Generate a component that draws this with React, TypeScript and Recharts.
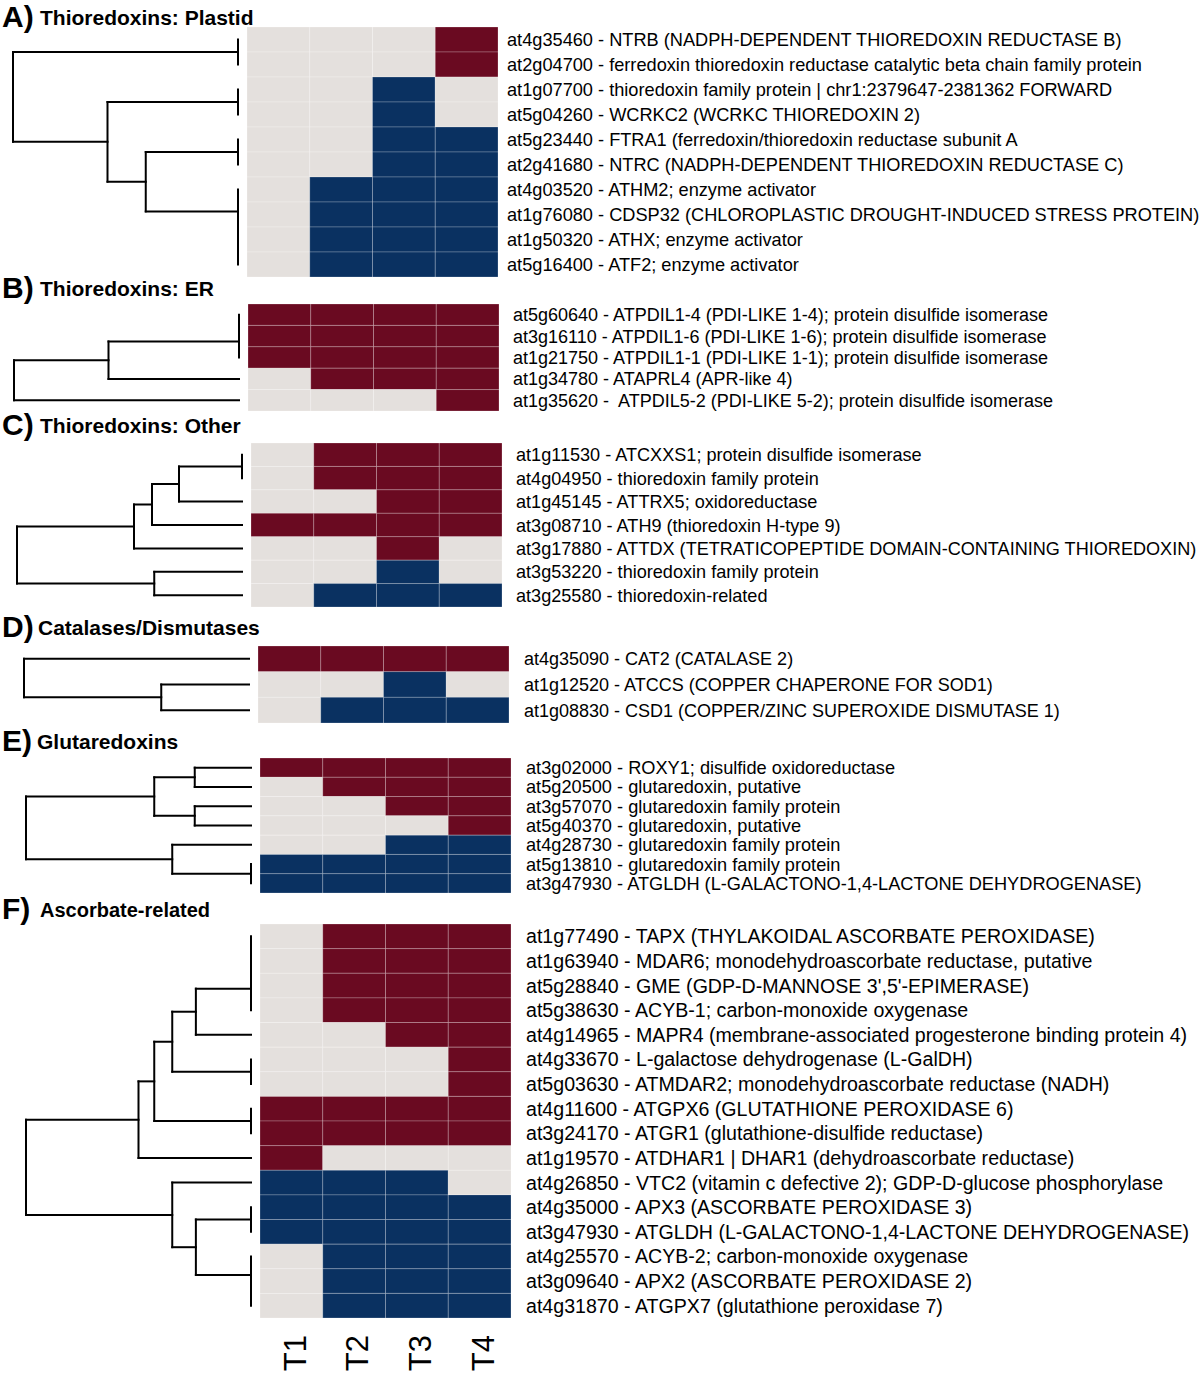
import React from 'react'
import { ComposedChart, XAxis, YAxis, ReferenceArea, ReferenceLine } from 'recharts'

// expression calls per time point: 1 = up (red), -1 = down (blue), 0 = unchanged (grey)
const timePoints = ['T1', 'T2', 'T3', 'T4']

// dendrograms: a leaf is a row index, a node is [height, left, right] (root height = 1)
type Tree = number | [number, Tree, Tree]

const plastidGenes = [
  'at4g35460 - NTRB (NADPH-DEPENDENT THIOREDOXIN REDUCTASE B)',
  'at2g04700 - ferredoxin thioredoxin reductase catalytic beta chain family protein',
  'at1g07700 - thioredoxin family protein | chr1:2379647-2381362 FORWARD',
  'at5g04260 - WCRKC2 (WCRKC THIOREDOXIN 2)',
  'at5g23440 - FTRA1 (ferredoxin/thioredoxin reductase subunit A',
  'at2g41680 - NTRC (NADPH-DEPENDENT THIOREDOXIN REDUCTASE C)',
  'at4g03520 - ATHM2; enzyme activator',
  'at1g76080 - CDSP32 (CHLOROPLASTIC DROUGHT-INDUCED STRESS PROTEIN)',
  'at1g50320 - ATHX; enzyme activator',
  'at5g16400 - ATF2; enzyme activator',
]
const plastidCalls = [
  [0, 0, 0, 1], [0, 0, 0, 1], [0, 0, -1, 0], [0, 0, -1, 0], [0, 0, -1, -1],
  [0, 0, -1, -1], [0, -1, -1, -1], [0, -1, -1, -1], [0, -1, -1, -1], [0, -1, -1, -1],
]
const plastidTree: Tree = [1, [0, 0, 1], [0.58, [0, 2, 3], [0.41, [0, 4, 5], [0, 6, [0, 7, [0, 8, 9]]]]]]

const erGenes = [
  'at5g60640 - ATPDIL1-4 (PDI-LIKE 1-4); protein disulfide isomerase',
  'at3g16110 - ATPDIL1-6 (PDI-LIKE 1-6); protein disulfide isomerase',
  'at1g21750 - ATPDIL1-1 (PDI-LIKE 1-1); protein disulfide isomerase',
  'at1g34780 - ATAPRL4 (APR-like 4)',
  'at1g35620 -  ATPDIL5-2 (PDI-LIKE 5-2); protein disulfide isomerase',
]
const erCalls = [[1, 1, 1, 1], [1, 1, 1, 1], [1, 1, 1, 1], [0, 1, 1, 1], [0, 0, 0, 1]]
const erTree: Tree = [1, [0.58, [0, [0, 0, 1], 2], 3], 4]

const otherGenes = [
  'at1g11530 - ATCXXS1; protein disulfide isomerase',
  'at4g04950 - thioredoxin family protein',
  'at1g45145 - ATTRX5; oxidoreductase',
  'at3g08710 - ATH9 (thioredoxin H-type 9)',
  'at3g17880 - ATTDX (TETRATICOPEPTIDE DOMAIN-CONTAINING THIOREDOXIN)',
  'at3g53220 - thioredoxin family protein',
  'at3g25580 - thioredoxin-related',
]
const otherCalls = [
  [0, 1, 1, 1], [0, 1, 1, 1], [0, 0, 1, 1], [1, 1, 1, 1], [0, 0, 1, 0], [0, 0, -1, 0], [0, -1, -1, -1],
]
const otherTree: Tree = [1, [0.48, [0.4, [0.28, [0, 0, 1], 2], 3], 4], [0.39, 5, 6]]

const catalaseGenes = [
  'at4g35090 - CAT2 (CATALASE 2)',
  'at1g12520 - ATCCS (COPPER CHAPERONE FOR SOD1)',
  'at1g08830 - CSD1 (COPPER/ZINC SUPEROXIDE DISMUTASE 1)',
]
const catalaseCalls = [[1, 1, 1, 1], [0, 0, -1, 0], [0, -1, -1, -1]]
const catalaseTree: Tree = [1, 0, [0.39, 1, 2]]

const glutaGenes = [
  'at3g02000 - ROXY1; disulfide oxidoreductase',
  'at5g20500 - glutaredoxin, putative',
  'at3g57070 - glutaredoxin family protein',
  'at5g40370 - glutaredoxin, putative',
  'at4g28730 - glutaredoxin family protein',
  'at5g13810 - glutaredoxin family protein',
  'at3g47930 - ATGLDH (L-GALACTONO-1,4-LACTONE DEHYDROGENASE)',
]
const glutaCalls = [
  [1, 1, 1, 1], [0, 1, 1, 1], [0, 0, 1, 1], [0, 0, 0, 1], [0, 0, -1, -1], [-1, -1, -1, -1], [-1, -1, -1, -1],
]
const glutaTree: Tree = [1, [0.43, [0.25, 0, 1], [0.25, 2, 3]], [0.35, 4, [0, 5, 6]]]

const ascorbateGenes = [
  'at1g77490 - TAPX (THYLAKOIDAL ASCORBATE PEROXIDASE)',
  'at1g63940 - MDAR6; monodehydroascorbate reductase, putative',
  "at5g28840 - GME (GDP-D-MANNOSE 3',5'-EPIMERASE)",
  'at5g38630 - ACYB-1; carbon-monoxide oxygenase',
  'at4g14965 - MAPR4 (membrane-associated progesterone binding protein 4)',
  'at4g33670 - L-galactose dehydrogenase (L-GalDH)',
  'at5g03630 - ATMDAR2; monodehydroascorbate reductase (NADH)',
  'at4g11600 - ATGPX6 (GLUTATHIONE PEROXIDASE 6)',
  'at3g24170 - ATGR1 (glutathione-disulfide reductase)',
  'at1g19570 - ATDHAR1 | DHAR1 (dehydroascorbate reductase)',
  'at4g26850 - VTC2 (vitamin c defective 2); GDP-D-glucose phosphorylase',
  'at4g35000 - APX3 (ASCORBATE PEROXIDASE 3)',
  'at3g47930 - ATGLDH (L-GALACTONO-1,4-LACTONE DEHYDROGENASE)',
  'at4g25570 - ACYB-2; carbon-monoxide oxygenase',
  'at3g09640 - APX2 (ASCORBATE PEROXIDASE 2)',
  'at4g31870 - ATGPX7 (glutathione peroxidase 7)',
]
const ascorbateCalls = [
  [0, 1, 1, 1], [0, 1, 1, 1], [0, 1, 1, 1], [0, 1, 1, 1], [0, 0, 1, 1], [0, 0, 0, 1], [0, 0, 0, 1],
  [1, 1, 1, 1], [1, 1, 1, 1], [1, 0, 0, 0], [-1, -1, -1, 0], [-1, -1, -1, -1], [-1, -1, -1, -1],
  [0, -1, -1, -1], [0, -1, -1, -1], [0, -1, -1, -1],
]
const ascorbateTree: Tree = [
  1,
  [0.5, [0.43, [0.35, [0.245, [0, [0, [0, 0, 1], 2], 3], 4], [0, 5, 6]], [0, 7, 8]], 9],
  [0.35, 10, [0.245, [0, 11, 12], [0, 13, [0, 14, 15]]]],
]

const COLORS: Record<number, string> = { 1: '#6a0a21', [-1]: '#0a3161', 0: '#e4e0dd' }
const FONT = '"Liberation Sans", Arial, Helvetica, sans-serif'

// px layout
const COL_PX = 62.75
const LEFT_PX = 240
const LEAF_GAP = 9 / COL_PX
const TREE_SPAN = 225 / COL_PX

const panels = [
  { letter: 'A)', title: 'Thioredoxins: Plastid', titleX: 40, baseline: 25, genes: plastidGenes, calls: plastidCalls, tree: plastidTree, left: 247, top: 27, bottom: 277, gap: 9, font: 18.2 },
  { letter: 'B)', title: 'Thioredoxins: ER', titleX: 40, baseline: 296, genes: erGenes, calls: erCalls, tree: erTree, left: 248, top: 304, bottom: 411, gap: 14, font: 18 },
  { letter: 'C)', title: 'Thioredoxins: Other', titleX: 40, baseline: 433, genes: otherGenes, calls: otherCalls, tree: otherTree, left: 251, top: 443, bottom: 607, gap: 14, font: 18.1 },
  { letter: 'D)', title: 'Catalases/Dismutases', titleX: 38, baseline: 635, genes: catalaseGenes, calls: catalaseCalls, tree: catalaseTree, left: 258, top: 646, bottom: 723, gap: 15, font: 18 },
  { letter: 'E)', title: 'Glutaredoxins', titleX: 37, baseline: 749, genes: glutaGenes, calls: glutaCalls, tree: glutaTree, left: 260, top: 758, bottom: 893, gap: 15, font: 18.2 },
  { letter: 'F)', title: 'Ascorbate-related', titleX: 40, baseline: 917, genes: ascorbateGenes, calls: ascorbateCalls, tree: ascorbateTree, left: 260, top: 924, bottom: 1318, gap: 15, font: 19.6, axis: true },
]

type Seg = { x1: number; y1: number; x2: number; y2: number }

const treeX = (h: number) => -(LEAF_GAP + h * TREE_SPAN)

function layoutTree(t: Tree, segs: Seg[]): { y: number; h: number } {
  if (typeof t === 'number') return { y: t + 0.5, h: 0 }
  const [h, l, r] = t
  const a = layoutTree(l, segs)
  const b = layoutTree(r, segs)
  segs.push({ x1: treeX(h), y1: a.y, x2: treeX(h), y2: b.y })
  if (a.h !== h) segs.push({ x1: treeX(h), y1: a.y, x2: treeX(a.h), y2: a.y })
  if (b.h !== h) segs.push({ x1: treeX(h), y1: b.y, x2: treeX(b.h), y2: b.y })
  return { y: (a.y + b.y) / 2, h }
}

function Panel({ p }: { p: (typeof panels)[number] }) {
  const n = p.genes.length
  const chartLeft = p.left - LEFT_PX
  const width = 1200 - chartLeft
  const plotW = LEFT_PX + 4 * COL_PX
  const axisH = p.axis ? 56 : 0
  const height = p.bottom - p.top + 8 + axisH
  const segs: Seg[] = []
  layoutTree(p.tree, segs)

  const GeneTick = (props: any) => {
    const i = Math.round(props.payload.value - 0.5)
    return (
      <text x={props.x + p.gap} y={props.y} dy="0.36em" fontSize={p.font} fontFamily={FONT} fill="#000" style={{ whiteSpace: 'pre' }}>
        {p.genes[i]}
      </text>
    )
  }
  const TimeTick = (props: any) => {
    const i = Math.round(props.payload.value - 0.5)
    return (
      <text transform={`translate(${props.x + 3},${props.y + 17}) rotate(-90)`} textAnchor="end" dy="0.36em" fontSize={31} fontFamily={FONT} fill="#000">
        {timePoints[i]}
      </text>
    )
  }

  return (
    <div style={{ position: 'absolute', left: chartLeft, top: p.top - 4 }}>
      <ComposedChart width={width} height={height} margin={{ top: 4, right: 0, bottom: 4, left: 0 }}>
        <XAxis
          type="number"
          dataKey="x"
          scale="linear"
          domain={[-LEFT_PX / COL_PX, 4]}
          allowDataOverflow
          ticks={[0.5, 1.5, 2.5, 3.5]}
          interval={0}
          hide={!p.axis}
          height={axisH}
          axisLine={false}
          tickLine={false}
          tickSize={0}
          tickMargin={0}
          tick={<TimeTick />}
        />
        <YAxis
          type="number"
          dataKey="y"
          orientation="right"
          scale="linear"
          domain={[0, n]}
          reversed
          allowDataOverflow
          width={width - plotW}
          ticks={p.genes.map((_, i) => i + 0.5)}
          interval={0}
          axisLine={false}
          tickLine={false}
          tickSize={0}
          tickMargin={0}
          tick={<GeneTick />}
        />
        {p.calls.map((row, r) =>
          row.map((v, c) => (
            <ReferenceArea
              key={`c${r}-${c}`}
              x1={c}
              x2={c + 1}
              y1={r}
              y2={r + 1}
              fill={COLORS[v]}
              fillOpacity={1}
              stroke="rgba(255,255,255,0.22)"
              strokeWidth={1}
              ifOverflow="visible"
            />
          ))
        )}
        {segs.map((s, k) => (
          <ReferenceLine
            key={`s${k}`}
            segment={[{ x: s.x1, y: s.y1 }, { x: s.x2, y: s.y2 }]}
            stroke="#000"
            strokeWidth={2}
            strokeLinecap="square"
            ifOverflow="visible"
          />
        ))}
      </ComposedChart>
    </div>
  )
}

export default function App() {
  return (
    <div style={{ position: 'absolute', left: 0, top: 0, width: 1200, height: 1374, background: '#fff', overflow: 'hidden' }}>
      {panels.map((p) => (
        <Panel key={p.letter} p={p} />
      ))}
      <svg width={1200} height={1374} style={{ position: 'absolute', left: 0, top: 0, pointerEvents: 'none' }}>
        {panels.map((p) => (
          <g key={p.letter} fontFamily={FONT} fontWeight="bold" fill="#000">
            <text x={2} y={p.baseline + 2} fontSize={30}>{p.letter}</text>
            <text x={p.titleX} y={p.baseline} fontSize={p.letter === 'F)' ? 20 : 21}>{p.title}</text>
          </g>
        ))}
      </svg>
    </div>
  )
}
